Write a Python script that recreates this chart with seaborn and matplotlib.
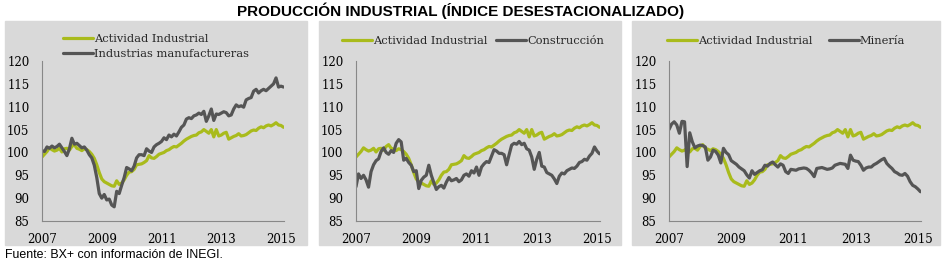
import numpy as np
import pandas as pd
import matplotlib
matplotlib.use('Agg')
import matplotlib.pyplot as plt
import seaborn as sns
from matplotlib.patches import Rectangle

# Índices mensuales desestacionalizados, ene-2007 a feb-2015
fechas = pd.date_range('2007-01-01', '2015-02-01', freq='MS')
anio = fechas.year + (fechas.month - 1) / 12

actividad_industrial = [
    99.0, 99.6, 100.2, 101.0, 100.6, 100.3, 100.5, 100.9, 100.1, 100.8, 100.9, 100.5,
    101.3, 101.7, 100.9, 100.7, 100.4, 100.8, 100.6, 100.2, 99.6, 98.7, 97.3, 95.6,
    94.2, 93.6, 93.3, 93.0, 92.7, 92.6, 93.8, 93.0, 93.3, 94.0, 95.0, 95.7,
    95.8, 96.3, 97.3, 97.4, 97.5, 97.8, 98.2, 99.3, 98.8, 98.7, 99.1, 99.6,
    99.8, 100.0, 100.4, 100.6, 101.0, 101.3, 101.2, 101.6, 102.0, 102.5, 102.9, 103.2,
    103.5, 103.7, 103.8, 104.3, 104.5, 105.0, 104.6, 104.2, 105.0, 103.4, 105.0, 103.6,
    103.8, 104.2, 104.4, 102.9, 103.2, 103.5, 103.7, 104.1, 103.6, 103.7, 103.9, 104.3,
    104.7, 104.9, 104.8, 105.3, 105.6, 105.4, 105.8, 106.0, 105.8, 106.1, 106.5, 106.0,
    105.9, 105.5]

manufactureras = [
    100.4, 100.2, 101.2, 100.9, 101.4, 101.0, 101.3, 101.8, 101.0, 100.2, 99.3, 100.8,
    103.1, 101.8, 102.0, 101.5, 101.0, 101.2, 100.5, 99.5, 98.8, 97.2, 94.5, 91.0,
    90.0, 90.8, 89.6, 89.8, 88.5, 88.1, 91.5, 91.0, 92.8, 94.5, 96.7, 96.4,
    96.0, 97.0, 98.8, 99.5, 99.5, 99.3, 100.8, 100.3, 100.0, 101.2, 101.7, 102.0,
    102.4, 103.2, 102.8, 103.8, 103.4, 104.0, 103.6, 104.5, 105.5, 106.0, 107.3, 107.6,
    107.4, 108.0, 108.2, 108.6, 108.3, 109.0, 106.8, 108.0, 109.5, 107.0, 108.4, 108.3,
    108.6, 108.9, 108.7, 108.0, 108.2, 109.5, 110.4, 110.0, 110.2, 109.9, 111.5, 111.8,
    112.0, 113.4, 113.8, 113.0, 113.5, 113.8, 113.5, 114.0, 114.5, 115.0, 116.3, 114.3,
    114.5, 114.3]

construccion = [
    92.5, 95.3, 94.3, 95.0, 94.0, 92.4, 95.8, 97.3, 98.2, 98.6, 100.2, 101.0,
    100.0, 99.6, 100.4, 100.0, 102.0, 102.8, 102.3, 98.3, 98.7, 97.8, 97.2, 95.8,
    96.0, 92.1, 93.9, 94.6, 95.0, 97.2, 95.0, 93.4, 91.9, 92.5, 92.8, 92.2,
    93.5, 94.5, 93.8, 94.0, 94.3, 93.6, 94.0, 95.0, 95.3, 94.8, 96.0, 95.5,
    96.8, 95.0, 96.8, 97.5, 98.0, 97.8, 99.2, 100.6, 100.3, 99.8, 99.8, 99.5,
    97.3, 99.5, 101.6, 102.0, 101.8, 102.4, 101.7, 102.0, 100.8, 100.5, 99.0, 96.3,
    98.5, 100.0, 97.0, 96.8, 95.6, 95.3, 95.0, 94.2, 93.2, 94.8, 95.5, 95.3,
    96.0, 96.3, 96.6, 96.5, 97.0, 97.8, 98.0, 98.5, 98.3, 99.2, 99.8, 101.2,
    100.3, 99.7]

mineria = [
    105.0, 106.2, 106.7, 106.0, 104.2, 106.8, 106.7, 96.9, 104.3, 102.3, 101.0, 101.4,
    101.6, 101.5, 101.2, 98.3, 99.0, 100.5, 100.2, 99.4, 97.7, 100.9, 100.0, 99.5,
    98.2, 97.8, 97.4, 96.8, 96.4, 96.0, 95.1, 94.4, 96.0, 95.2, 95.6, 96.0,
    96.2, 97.2, 97.0, 97.6, 97.9, 97.3, 96.8, 97.5, 97.2, 95.8, 95.4, 96.3,
    96.2, 96.1, 96.4, 96.5, 96.6, 96.5, 96.1, 95.5, 94.7, 96.5, 96.6, 96.7,
    96.5, 96.3, 96.4, 96.6, 97.2, 97.4, 97.6, 97.5, 97.4, 96.5, 99.4, 98.3,
    98.1, 98.0, 97.2, 96.1, 96.6, 96.8, 96.8, 97.3, 97.6, 98.0, 98.4, 98.7,
    97.6, 97.0, 96.5, 95.8, 95.5, 95.1, 95.0, 95.4, 94.8, 93.6, 92.8, 92.5,
    92.0, 91.4]

anios_tick = [2007, 2009, 2011, 2013, 2015]
yticks = [85, 90, 95, 100, 105, 110, 115, 120]

verde = '#a9bb1c'
gris_osc = '#555555'
fondo = '#d9d9d9'

W, H = 942, 262

sns.set_theme(style='white')
plt.rcParams['font.family'] = ['DejaVu Serif']

fig = plt.figure(figsize=(W / 100, H / 100), dpi=100)

# (x0 panel, x1 panel, izquierda eje, ancho eje, serie, nombre, ncol, leyenda x, leyenda y, colspacing)
paneles = [
    (5, 307, 42, 242, manufactureras, 'Industrias manufactureras', 1, 63, 34, 1.0),
    (319, 621, 356, 244, construccion, 'Construcción', 2, 342, 36, 0.8),
    (632, 940, 669, 252, mineria, 'Minería', 2, 667, 36, 1.5),
]

for x0, x1, izq, ancho, serie, nombre, ncol, lx, ly, colsp in paneles:
    fig.patches.append(Rectangle((x0 / W, 1 - 245 / H), (x1 - x0) / W, 224 / H,
                                 transform=fig.transFigure, color=fondo, zorder=-5))
    ax = fig.add_axes([izq / W, 1 - 221 / H, ancho / W, 160 / H])
    ax.set_facecolor(fondo)

    sns.lineplot(x=anio, y=actividad_industrial, color=verde, lw=2.3,
                 label='Actividad Industrial', ax=ax)
    sns.lineplot(x=anio, y=serie, color=gris_osc, lw=2.3, label=nombre, ax=ax)

    ax.set_xlim(2007, 2015.1)
    ax.set_ylim(85, 120)
    ax.set_xticks(anios_tick)
    ax.set_yticks(yticks)
    ax.set_xticklabels([str(a) for a in anios_tick])
    ax.tick_params(axis='both', labelsize=8.5, colors='#888888', labelcolor='black',
                   length=4, width=0.8, direction='out')
    ax.tick_params(axis='y', pad=5)
    ax.tick_params(axis='x', pad=4.5)
    ax.set_xlabel('')
    ax.set_ylabel('')
    sns.despine(ax=ax)
    for lado in ['left', 'bottom']:
        ax.spines[lado].set_color('#888888')
        ax.spines[lado].set_linewidth(0.8)

    ax.legend(loc='upper left', bbox_to_anchor=(lx / W, 1 - ly / H),
              bbox_transform=fig.transFigure, ncol=ncol, frameon=False,
              fontsize=8.2, handlelength=2.6, handletextpad=0.1, borderpad=0,
              borderaxespad=0, labelspacing=0.45, columnspacing=colsp)

fig.text(461 / W, 1 - 11 / H, 'PRODUCCIÓN INDUSTRIAL (ÍNDICE DESESTACIONALIZADO)',
         ha='center', va='center', fontsize=11, fontweight='bold', color='black',
         family=['Liberation Sans', 'DejaVu Sans'])
fig.text(5 / W, 1 - 255 / H, 'Fuente: BX+ con información de INEGI.',
         ha='left', va='center', fontsize=8.9, color='black',
         family=['Liberation Sans', 'DejaVu Sans'])

fig.savefig('out.png', dpi=100)
